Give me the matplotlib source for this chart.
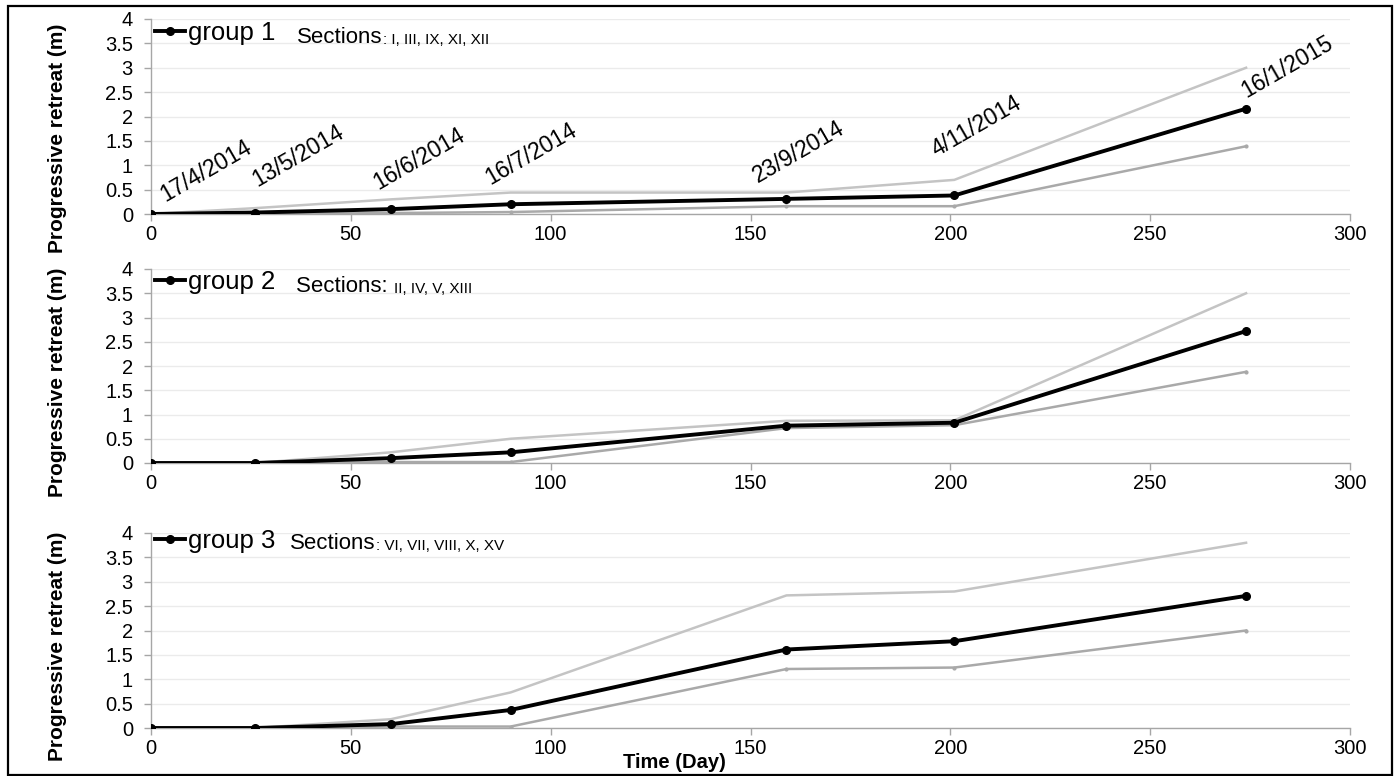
import numpy as np
import matplotlib
matplotlib.use("Agg")
import matplotlib.pyplot as plt
from matplotlib.patches import Rectangle

plt.rcParams["font.family"] = ["Liberation Sans", "DejaVu Sans"]

# ── data ────────────────────────────────────────────────────────────────────
days = [0, 26, 60, 90, 159, 201, 274]
dates = ["17/4/2014", "13/5/2014", "16/6/2014", "16/7/2014",
         "23/9/2014", "4/11/2014", "16/1/2015"]

g1_mean = [0, 0.03, 0.10, 0.20, 0.31, 0.38, 2.16]
g1_upper = [0, 0.12, 0.30, 0.44, 0.44, 0.70, 3.00]
g1_lower = [0, 0.00, 0.02, 0.04, 0.16, 0.16, 1.39]

g2_mean = [0, 0, 0.10, 0.22, 0.77, 0.83, 2.72]
g2_upper = [0, 0, 0.22, 0.50, 0.87, 0.88, 3.50]
g2_lower = [0, 0, 0.02, 0.02, 0.72, 0.78, 1.88]

g3_mean = [0, 0, 0.08, 0.37, 1.61, 1.78, 2.71]
g3_upper = [0, 0, 0.18, 0.73, 2.72, 2.80, 3.80]
g3_lower = [0, 0, 0.03, 0.03, 1.21, 1.24, 2.00]

group_names = ["group 1", "group 2", "group 3"]
sec_main = ["Sections", "Sections: ", "Sections"]
sec_list = [": I, III, IX, XI, XII", "II, IV, V, XIII", ": VI, VII, VIII, X, XV"]

# label positions (data coords) for the date annotations on panel 1
date_x = [3.5, 26.5, 56.8, 84.8, 151.8, 196.5, 274]
date_y = [0.25, 0.55, 0.49, 0.60, 0.63, 1.17, 2.38]

means = [g1_mean, g2_mean, g3_mean]
uppers = [g1_upper, g2_upper, g3_upper]
lowers = [g1_lower, g2_lower, g3_lower]

# ── layout ──────────────────────────────────────────────────────────────────
W, H = 1399, 776
fig = plt.figure(figsize=(W / 100, H / 100), dpi=100, facecolor="white")

panel_px = [(19, 214), (269, 463), (533, 728)]   # top, bottom in pixels
left_px, right_px = 151, 1350
ylab_y_px = [138, 382, 646]
leg_y = [0.928, 0.933, 0.959]
sec_pos = [(0.122, 0.877), (0.121, 0.881), (0.116, 0.918)]

spine_c = "#a6a6a6"
grid_c = "#ebebeb"
upper_c = "#c4c4c4"
lower_c = "#a9a9a9"

axes = []
for i, (top, bot) in enumerate(panel_px):
    ax = fig.add_axes([left_px / W, 1 - bot / H,
                       (right_px - left_px) / W, (bot - top) / H])
    axes.append(ax)

    ax.plot(days, uppers[i], color=upper_c, lw=1.8, zorder=2)
    ax.plot(days, lowers[i], color=lower_c, lw=1.8, marker="o", ms=2,
            zorder=2)
    ax.plot(days, means[i], color="black", lw=2.8, marker="o", ms=5.5,
            zorder=3, label=group_names[i])

    ax.set_xlim(0, 300)
    ax.set_ylim(0, 4)
    ax.set_xticks(np.arange(0, 301, 50))
    ax.set_yticks(np.arange(0, 4.01, 0.5))
    ax.set_yticklabels(["0", "0.5", "1", "1.5", "2", "2.5", "3", "3.5", "4"])
    ax.yaxis.grid(True, color=grid_c, lw=1.0)
    ax.set_axisbelow(True)
    for s in ("top", "right"):
        ax.spines[s].set_visible(False)
    for s in ("left", "bottom"):
        ax.spines[s].set_color(spine_c)
        ax.spines[s].set_linewidth(1.0)
    ax.tick_params(axis="both", colors=spine_c, labelcolor="black",
                   labelsize=14.5, length=5, width=1.0)
    ax.tick_params(axis="x", pad=3)
    ax.tick_params(axis="y", pad=8)

    ax.legend(loc="center left", bbox_to_anchor=(0.003, leg_y[i]),
              frameon=False, fontsize=18.5, handlelength=1.2,
              handletextpad=0.1, borderpad=0, borderaxespad=0)

    t1 = ax.text(sec_pos[i][0], sec_pos[i][1], sec_main[i],
                 transform=ax.transAxes, fontsize=16, va="baseline",
                 ha="left")
    ax.annotate(sec_list[i], xy=(1, 0), xycoords=t1, xytext=(0, 1),
                textcoords="offset points", fontsize=11, va="bottom",
                ha="left")

    fig.text(0.041, 1 - ylab_y_px[i] / H, "Progressive retreat (m)",
             rotation=90, fontsize=15, fontweight="bold",
             ha="center", va="center")

# date annotations on the first panel
for x, y, d in zip(date_x, date_y, dates):
    axes[0].text(x, y, d, fontsize=16.5, rotation=30, rotation_mode="anchor",
                 ha="left", va="baseline")

fig.text(674 / W, 1 - 763 / H, "Time (Day)", fontsize=14.5,
         fontweight="bold", ha="center", va="center")

# outer frame
fig.patches.append(Rectangle((8 / W, 1 / H), 1384 / W, 769 / H,
                             transform=fig.transFigure, fill=False,
                             edgecolor="black", lw=1.6))

fig.savefig("out.png", dpi=100, facecolor="white")
